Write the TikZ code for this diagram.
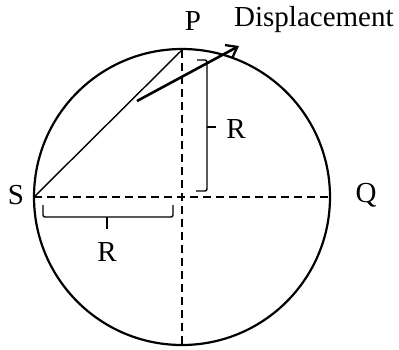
\documentclass[tikz,border=0pt]{standalone}
\usepackage{fontspec}
\setmainfont{Liberation Serif}
\usetikzlibrary{arrows.meta}
\begin{document}
\begin{tikzpicture}[x=1pt,y=-1pt,
  lbl/.style={inner sep=0pt,font=\fontsize{29}{32}\selectfont},
  dsh/.style={line width=1.9pt,dash pattern=on 8pt off 5pt},
  brk/.style={line width=1.4pt,rounded corners=2pt}]
\useasboundingbox (0,0) rectangle (399,349);
\coordinate (O) at (182,197);
\coordinate (S) at (34,197);
\coordinate (Qe) at (330,197);
\coordinate (P) at (182,50);
\coordinate (B) at (182,345);
\coordinate (A0) at (137,101);
\coordinate (A1) at (239,46);
\draw[line width=2.2pt] (O) circle[radius=148];
\draw[dsh] (S) -- (Qe);
\draw[dsh] (P) -- (B);
\draw[line width=1.4pt] (S) -- (P);
\draw[line width=2.6pt,-{Straight Barb[length=10pt,width=15pt,line width=2.3pt]}] (A0) -- (A1);
% vertical bracket
\coordinate (v1) at (197,60);
\coordinate (v2) at (207,60);
\coordinate (v3) at (207,191);
\coordinate (v4) at (196,191);
\coordinate (vm) at (207,127);
\coordinate (vt) at (216,127);
\draw[brk] (v1) -- (v2) -- (v3) -- (v4);
\draw[line width=1.4pt] (vm) -- (vt);
% horizontal bracket
\coordinate (h1) at (43,205);
\coordinate (h2) at (43,217);
\coordinate (h3) at (173,217);
\coordinate (h4) at (173,205);
\coordinate (hm) at (107,217);
\coordinate (ht) at (107,229);
\draw[brk] (h1) -- (h2) -- (h3) -- (h4);
\draw[line width=1.4pt] (hm) -- (ht);
% labels
\node[lbl] (Pl) at (193,21) {P};
\node[lbl,anchor=west] (Dl) at (234,20) {Displacement};
\node[lbl] (Sl) at (16,195) {S};
\node[lbl] (Ql) at (366,195) {Q};
\node[lbl] (R1) at (236,129) {R};
\node[lbl] (R2) at (107,252) {R};
\end{tikzpicture}
\end{document}
